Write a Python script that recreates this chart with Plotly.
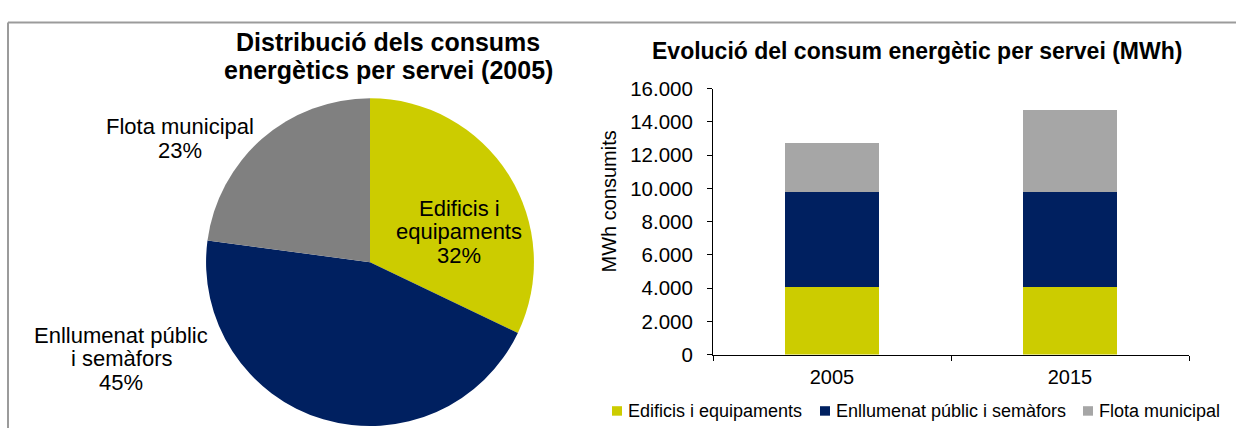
import plotly.graph_objects as go

# Energy consumption by service (MWh)
services = ["Edificis i equipaments", "Enllumenat públic i semàfors", "Flota municipal"]
pie_labels = ["Edificis i\nequipaments", "Enllumenat públic\ni semàfors", "Flota municipal"]
years = ["2005", "2015"]
edificis = [4080, 4040]
enllumenat = [5720, 5750]
flota = [2910, 4950]
y_ticks = [0, 2000, 4000, 6000, 8000, 10000, 12000, 14000, 16000]

bar_colors = ["#CCCC00", "#002060", "#A6A6A6"]
pie_colors = ["#CCCC00", "#002060", "#808080"]

W, H = 1236, 439
FONT = "Liberation Sans, Arial, sans-serif"


def px(x):
    return x / W


def py(y):
    return 1 - y / H


series = [edificis, enllumenat, flota]
pie_values = [s[0] for s in series]

fig = go.Figure()

# 2005 share by service
fig.add_trace(go.Pie(
    labels=services,
    values=pie_values,
    marker=dict(colors=pie_colors, line=dict(width=0)),
    sort=False,
    direction="clockwise",
    rotation=0,
    textinfo="none",
    hoverinfo="label+percent",
    domain=dict(x=[px(197), px(543)], y=[py(437), py(91)]),
    showlegend=False,
))

# stacked bars per year
for name, vals, col in zip(services, series, bar_colors):
    fig.add_trace(go.Bar(
        x=years, y=vals, name=name,
        marker=dict(color=col, line=dict(width=0)),
        xaxis="x", yaxis="y", showlegend=False,
    ))

annotations = []
shapes = []

# pie title (two lines)
for i, line in enumerate(["Distribució dels consums", "energètics per servei (2005)"]):
    annotations.append(dict(
        x=px(388), y=py(32 + 29 * i), xref="paper", yref="paper",
        text=f"<b>{line}</b>", showarrow=False, xanchor="center", yanchor="middle",
        font=dict(family=FONT, size=25, color="#000000"),
    ))

# bar chart title
annotations.append(dict(
    x=px(917), y=py(41), xref="paper", yref="paper",
    text="<b>Evolució del consum energètic per servei (MWh)</b>",
    showarrow=False, xanchor="center", yanchor="middle",
    font=dict(family=FONT, size=23, color="#000000"),
))

# pie slice labels: name lines + percentage
total = sum(pie_values)
label_pos = [(459, 207), (121, 341), (180, 121)]
for lab, val, (lx, ly) in zip(pie_labels, pie_values, label_pos):
    lines = lab.split("\n") + [f"{round(100 * val / total)}%"]
    for i, line in enumerate(lines):
        annotations.append(dict(
            x=px(lx), y=py(ly + 25 * i), xref="paper", yref="paper",
            text=line, showarrow=False, xanchor="center", yanchor="middle",
            font=dict(family=FONT, size=22, color="#000000"),
        ))

# y axis title
annotations.append(dict(
    x=px(609), y=py(200), xref="paper", yref="paper",
    text="MWh consumits", textangle=-90, showarrow=False,
    xanchor="center", yanchor="middle",
    font=dict(family=FONT, size=20, color="#000000"),
))

# legend for the stacked bars
legend_x = [612, 820, 1083]
for name, col, lx in zip(services, bar_colors, legend_x):
    shapes.append(dict(
        type="rect", xref="paper", yref="paper",
        x0=px(lx), x1=px(lx + 10), y0=py(426), y1=py(416),
        fillcolor=col, line=dict(width=0),
    ))
    annotations.append(dict(
        x=px(lx + 14), y=py(421), xref="paper", yref="paper",
        text=name, showarrow=False, xanchor="left", yanchor="middle",
        font=dict(family=FONT, size=18, color="#000000"),
    ))

# frame lines (top and left)
shapes.append(dict(type="line", xref="paper", yref="paper",
                   x0=px(8), x1=1, y0=py(11), y1=py(11),
                   line=dict(color="#9B9B9B", width=2)))
shapes.append(dict(type="line", xref="paper", yref="paper",
                   x0=px(8), x1=px(8), y0=py(11), y1=0,
                   line=dict(color="#9B9B9B", width=2)))

fig.update_layout(
    width=W, height=H,
    margin=dict(l=0, r=0, t=0, b=0),
    paper_bgcolor="#FFFFFF",
    plot_bgcolor="#FFFFFF",
    barmode="stack",
    bargap=0.605,
    separators=",.",
    font=dict(family=FONT, color="#000000"),
    annotations=annotations,
    shapes=shapes,
    xaxis=dict(
        domain=[px(713), px(1189)],
        anchor="y",
        type="category",
        showline=True, linecolor="#000000", linewidth=1,
        ticks="outside", ticklen=5, tickcolor="#000000", tickson="boundaries",
        showgrid=False, zeroline=False,
        tickfont=dict(family=FONT, size=20, color="#000000"),
        ticklabelstandoff=4,
    ),
    yaxis=dict(
        domain=[py(361.5), py(81)],
        anchor="x",
        range=[0, 16000],
        tickvals=y_ticks,
        tickformat=",d",
        showline=True, linecolor="#000000", linewidth=1,
        ticks="outside", ticklen=5, tickcolor="#000000",
        showgrid=False, zeroline=False,
        tickfont=dict(family=FONT, size=20.5, color="#000000"),
        ticklabelstandoff=10,
    ),
)

fig.write_html("out.html")
